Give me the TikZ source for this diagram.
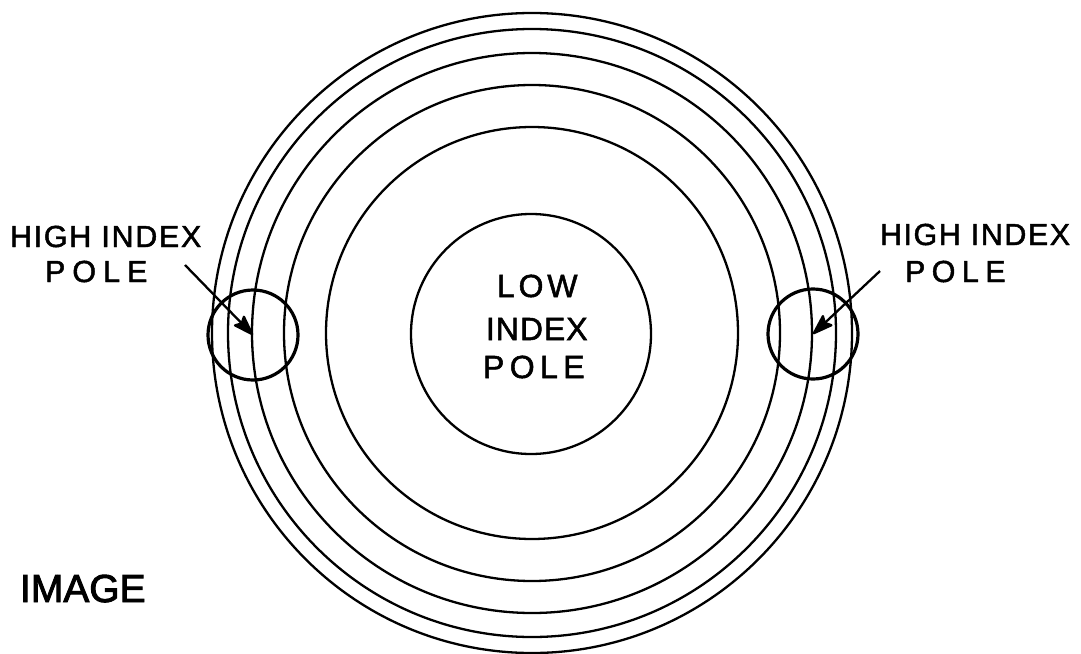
\documentclass[tikz,border=0pt]{standalone}
\usepackage{fontspec}
\usetikzlibrary{arrows.meta}
\newfontfamily\labfont[FakeBold=1.6]{Liberation Sans}
\newfontfamily\imgfont[FakeBold=2.4]{Liberation Sans}
\tikzset{
  ring/.style={circle, draw, line width=2.3pt, inner sep=0pt, outer sep=0pt},
  polering/.style={circle, draw, line width=3.2pt, inner sep=0pt, outer sep=0pt, minimum size=90pt},
  lbl/.style={anchor=base west, inner sep=0pt, outer sep=0pt},
  pointer/.style={line width=2.3pt, -{Stealth[length=24pt,width=16pt,inset=4pt,round]}},
}
\begin{document}
\begin{tikzpicture}[x=1pt,y=-1pt]
\useasboundingbox[fill=white] (0,0) rectangle (1081,653);
\coordinate (C) at (532,333);
\node[ring, minimum size=640pt] (r1) at (C) {};
\node[ring, minimum size=608pt] (r2) at (C) {};
\node[ring, minimum size=560pt] (r3) at (C) {};
\node[ring, minimum size=496pt] (r4) at (C) {};
\node[ring, minimum size=412pt] (r5) at (C) {};
\node[ring, minimum size=240pt] (low) at (531,334) {};

\node[polering] (pl) at (253,335) {};
\node[polering] (pr) at (813,334) {};

% labels
\node[lbl, font=\labfont\fontsize{30.5}{36}\selectfont\addfontfeature{LetterSpace=5.5}] (lh) at (10,247) {HIGH INDEX};
\node[lbl, font=\labfont\fontsize{30.5}{36}\selectfont\addfontfeature{LetterSpace=23}] (lp) at (45,282) {POLE};
\node[lbl, font=\labfont\fontsize{30.5}{36}\selectfont\addfontfeature{LetterSpace=5}] (rh) at (880,245) {HIGH INDEX};
\node[lbl, font=\labfont\fontsize{30.5}{36}\selectfont\addfontfeature{LetterSpace=21}] (rp) at (905,282) {POLE};

\node[lbl, font=\labfont\fontsize{32}{38}\selectfont\addfontfeature{LetterSpace=12}] (cl) at (497,297) {LOW};
\node[lbl, font=\labfont\fontsize{32}{38}\selectfont\addfontfeature{LetterSpace=3}] (ci) at (486,340) {INDEX};
\node[lbl, font=\labfont\fontsize{32}{38}\selectfont\addfontfeature{LetterSpace=17}] (cp) at (483,378) {POLE};

\node[lbl, font=\imgfont\fontsize{39}{46}\selectfont] (img) at (20,602) {IMAGE};

% pointers
\coordinate (la) at (185,265);
\coordinate (ra) at (880,271);
\draw[pointer] (la) -- (pl.center);
\draw[pointer] (ra) -- (pr.center);
\end{tikzpicture}
\end{document}
